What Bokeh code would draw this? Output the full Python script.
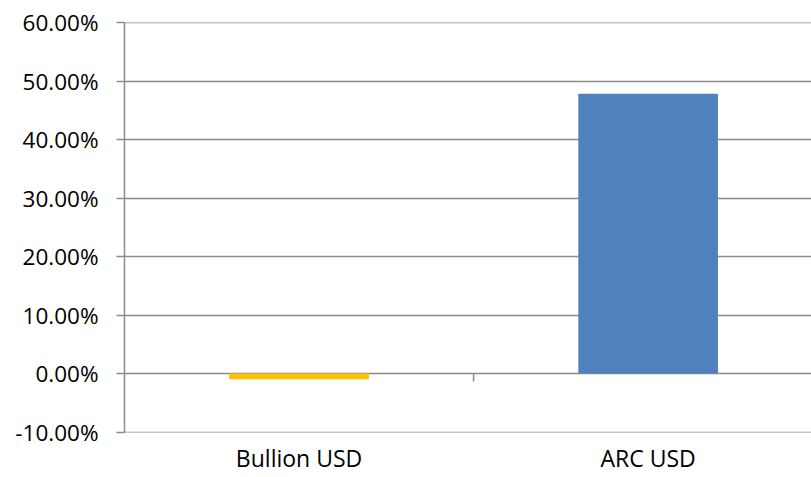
from bokeh.plotting import figure
from bokeh.models import Range1d, FixedTicker, PrintfTickFormatter, ColumnDataSource
from bokeh.embed import file_html
from bokeh.resources import INLINE

categories = ["Bullion USD", "ARC USD"]
values = [-0.95, 47.9]
colors = ["#FFC000", "#4F81BD"]
y_ticks = [-10, 0, 10, 20, 30, 40, 50, 60]

FONT = "Open Sans"
GRID = "#8C8C8C"

xs = [i + 0.5 for i in range(len(categories))]
src = ColumnDataSource(dict(x=xs, top=values, color=colors, cat=categories))

p = figure(width=811, height=477, output_backend="svg", toolbar_location=None,
           x_range=Range1d(0, 1.968), y_range=Range1d(-10.08, 60.08),
           min_border_left=124, min_border_right=0, min_border_top=22, min_border_bottom=45)
p.outline_line_color = None
p.background_fill_color = "white"
p.border_fill_color = "white"

p.vbar(x="x", top="top", bottom=0, width=0.40, fill_color="color", line_color=None, source=src)

# category divider tick hanging from the zero line
p.segment(x0=[1.0], y0=[0], x1=[1.0], y1=[-1.37], line_color=GRID, line_width=1.5)

p.xgrid.visible = False
p.ygrid.ticker = FixedTicker(ticks=y_ticks)
p.ygrid.grid_line_color = GRID
p.ygrid.grid_line_width = 1.5

ya = p.yaxis[0]
ya.ticker = FixedTicker(ticks=y_ticks)
ya.formatter = PrintfTickFormatter(format="%.2f%%")
ya.axis_line_color = GRID
ya.axis_line_width = 1.5
ya.major_tick_line_color = GRID
ya.major_tick_line_width = 1.5
ya.major_tick_in = 0
ya.major_tick_out = 8
ya.minor_tick_line_color = None
ya.major_label_standoff = 18
ya.major_label_text_font = FONT
ya.major_label_text_font_size = "22.5px"
ya.major_label_text_color = "#000000"

xa = p.xaxis[0]
xa.ticker = FixedTicker(ticks=xs)
xa.major_label_overrides = {x: c for x, c in zip(xs, categories)}
xa.axis_line_color = None
xa.major_tick_line_color = None
xa.major_tick_out = 0
xa.major_tick_in = 0
xa.minor_tick_line_color = None
xa.major_label_standoff = 9
xa.major_label_text_font = FONT
xa.major_label_text_font_size = "23px"
xa.major_label_text_color = "#000000"

open("out.html", "w").write(file_html(p, INLINE))
